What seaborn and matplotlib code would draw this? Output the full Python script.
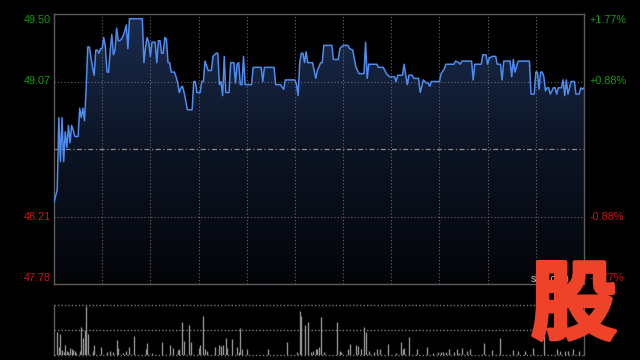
import numpy as np
import matplotlib
matplotlib.use("Agg")
import matplotlib.pyplot as plt
import matplotlib.patheffects as pe
import seaborn as sns
import pandas as pd
from matplotlib.patches import Polygon
from matplotlib.colors import LinearSegmentedColormap

# ---------------- data ----------------
trace_min = [
    0, 2, 3, 4, 5, 6, 7, 8, 9, 10,
    11, 12, 13, 15, 16, 17, 18, 19, 20, 21,
    22, 24, 25, 26, 27, 28, 29, 30, 31, 32,
    33, 34, 35, 36, 37, 38, 39, 40, 41, 42,
    43, 44, 45, 46, 47, 55, 56, 57, 58, 59,
    60, 61, 63, 64, 65, 66, 67, 68, 69, 70,
    71, 72, 73, 75, 76, 77, 78, 79, 80, 81,
    82, 83, 86, 87, 88, 89, 91, 92, 93, 94,
    96, 98, 99, 100, 101, 102, 103, 104, 105, 106,
    107, 109, 110, 112, 113, 114, 115, 116, 117, 118,
    119, 123, 124, 129, 130, 131, 137, 138, 141, 143,
    144, 150, 151, 152, 153, 154, 155, 156, 157, 158,
    161, 162, 163, 164, 166, 167, 168, 173, 174, 177,
    178, 180, 183, 184, 186, 188, 189, 190, 193, 194,
    195, 196, 201, 202, 205, 207, 209, 212, 213, 214,
    217, 218, 219, 220, 221, 223, 224, 227, 228, 230,
    231, 232, 233, 234, 235, 240, 241, 243, 244, 249,
    250, 252, 253, 254, 260, 261, 262, 266, 267, 269,
    270, 271, 273, 275, 276, 278, 279, 280, 284, 285,
    286, 287, 289, 296, 297, 299, 300, 301, 302, 303,
    304, 305, 306, 307, 308, 309, 311, 312, 313, 314,
    316, 317, 318, 319, 320, 322, 324, 325, 327, 328,
    329, 330,
]
trace_price = [
    48.30, 48.38, 48.84, 48.56, 48.84, 48.56, 48.75, 48.65, 48.79, 48.68,
    48.79, 48.76, 48.72, 48.72, 48.90, 48.84, 48.90, 48.82, 49.02, 49.29,
    49.29, 49.16, 49.11, 49.27, 49.27, 49.25, 49.28, 49.28, 49.35, 49.29,
    49.13, 49.13, 49.27, 49.37, 49.24, 49.27, 49.41, 49.33, 49.33, 49.34,
    49.36, 49.39, 49.43, 49.28, 49.47, 49.47, 49.19, 49.29, 49.35, 49.32,
    49.23, 49.32, 49.32, 49.19, 49.33, 49.33, 49.25, 49.25, 49.35, 49.34,
    49.19, 49.19, 49.13, 49.13, 49.10, 49.06, 49.00, 49.03, 49.04, 49.00,
    48.95, 48.89, 48.89, 49.07, 49.07, 49.00, 49.00, 49.07, 49.07, 49.20,
    49.14, 49.14, 49.23, 49.24, 49.25, 49.25, 49.05, 49.07, 48.98, 49.23,
    49.00, 49.00, 49.19, 49.19, 49.06, 49.18, 49.19, 49.05, 49.05, 49.23,
    49.05, 49.05, 49.16, 49.16, 49.07, 49.16, 49.16, 49.05, 49.05, 49.02,
    49.08, 49.08, 49.05, 48.98, 49.19, 49.25, 49.25, 49.19, 49.26, 49.19,
    49.19, 49.14, 49.09, 49.14, 49.19, 49.19, 49.30, 49.30, 49.21, 49.21,
    49.28, 49.30, 49.30, 49.28, 49.27, 49.16, 49.14, 49.12, 49.12, 49.32,
    49.09, 49.18, 49.18, 49.16, 49.16, 49.12, 49.10, 49.10, 49.07, 49.11,
    49.11, 49.18, 49.11, 49.05, 49.11, 49.11, 49.09, 49.09, 49.00, 49.08,
    49.07, 49.06, 49.06, 49.04, 49.07, 49.07, 49.12, 49.15, 49.18, 49.18,
    49.20, 49.19, 49.18, 49.20, 49.20, 49.08, 49.18, 49.18, 49.24, 49.24,
    49.18, 49.22, 49.23, 49.23, 49.18, 49.18, 49.08, 49.20, 49.20, 49.10,
    49.21, 49.13, 49.20, 49.20, 48.99, 48.99, 49.13, 49.13, 49.02, 49.13,
    49.13, 49.10, 49.01, 49.03, 49.03, 48.99, 49.03, 49.03, 48.99, 49.03,
    49.03, 49.08, 48.98, 49.08, 48.99, 49.07, 49.07, 48.99, 48.99, 49.03,
    49.02, 49.03,
]

vol_min = [
    2, 3, 4, 5, 6, 7, 8, 9, 10, 11, 12, 13, 14, 16, 17, 18, 19, 20, 21, 24,
    25, 29, 33, 35, 37, 39, 40, 43, 45, 47, 50, 57, 58, 61, 67, 72, 74, 77, 78, 80,
    81, 84, 85, 90, 91, 93, 94, 95, 100, 103, 104, 105, 107, 108, 111, 114, 115, 116, 117, 120,
    133, 145, 151, 153, 154, 156, 158, 160, 161, 163, 164, 165, 166, 168, 176, 178, 179, 183, 184, 188,
    189, 191, 193, 194, 196, 199, 201, 203, 208, 213, 216, 217, 218, 221, 226, 232, 236, 239, 241, 242,
    244, 246, 249, 251, 252, 254, 257, 259, 268, 273, 278, 286, 289, 293, 298, 305, 313, 315, 318, 320,
    323, 327,
]
vol_val = [
    23, 8, 21, 5, 3, 10, 4, 3, 7, 6, 5, 4, 2, 4, 28, 17, 25, 49, 21, 4,
    10, 8, 3, 4, 3, 15, 7, 2, 4, 8, 19, 6, 12, 2, 13, 10, 7, 5, 6, 33,
    14, 30, 13, 7, 10, 39, 6, 4, 8, 10, 9, 10, 17, 7, 16, 8, 3, 27, 6, 6,
    6, 13, 3, 44, 39, 30, 33, 3, 4, 6, 6, 8, 38, 3, 33, 4, 3, 6, 11, 10,
    9, 6, 28, 23, 4, 3, 6, 6, 11, 2, 13, 6, 7, 18, 6, 8, 2, 3, 3, 3,
    3, 6, 3, 6, 2, 7, 4, 6, 12, 5, 17, 5, 4, 4, 7, 22, 6, 4, 4, 4,
    6, 4,
]

left_labels = ["49.50", "49.07", "48.21", "47.78"]
right_labels = ["+1.77%", "+0.88%", "-0.88%", "-1.77%"]
label_prices = [49.50, 49.07, 48.21, 47.78]
prev_close = 48.64
grid_minutes = [30, 60, 90, 120, 150, 180, 210, 240, 270, 300]

# ---------------- style ----------------
sns.set_theme(style="dark")
plt.rcParams["font.family"] = ["Liberation Sans", "DejaVu Sans"]

W, H = 640, 360
fig = plt.figure(figsize=(6.4, 3.6), dpi=100, facecolor="black")
ax = fig.add_axes([54 / W, 1 - 284 / H, 530 / W, 270 / H])
axv = fig.add_axes([54 / W, 1 - 355 / H, 530 / W, 50 / H])

YMIN, YMAX = 47.78, 49.50
for a in (ax, axv):
    a.set_facecolor("black")
    a.grid(False)

df = pd.DataFrame({"minute": trace_min, "price": trace_price})

# gradient area under the line
grad = np.linspace(0, 1, 256).reshape(-1, 1)
cmap = LinearSegmentedColormap.from_list("g", ["#030408", "#0c1424", "#1b2c4e"])
im = ax.imshow(grad, extent=[0, 330, YMIN, YMAX], origin="lower",
               aspect="auto", cmap=cmap, zorder=1, interpolation="bilinear")
verts = [(trace_min[0], YMIN)] + list(zip(trace_min, trace_price)) + [(trace_min[-1], YMIN)]
poly = Polygon(verts, closed=True, facecolor="none", edgecolor="none")
ax.add_patch(poly)
im.set_clip_path(poly)

# grid lines
gcol = "#6a6a6a"
for m in grid_minutes:
    ax.axvline(m, color=gcol, lw=0.8, ls=(0, (1, 2)), zorder=2)
for p in (49.07, 48.21):
    ax.axhline(p, color=gcol, lw=0.8, ls=(0, (1, 2)), zorder=2)
ax.axhline(prev_close, color="#8a8a8a", lw=0.9, ls=(0, (4, 2, 1, 2)), zorder=2)

sns.lineplot(data=df, x="minute", y="price", ax=ax, color="#4d8cf0",
             lw=1.1, zorder=4, estimator=None)
ax.set_xlim(0, 330)
ax.set_ylim(YMIN, YMAX)
ax.set_xlabel("")
ax.set_ylabel("")
ax.set_xticks([])
ax.set_yticks([])

for s in ax.spines.values():
    s.set_visible(True)
    s.set_color("#5c5c5c")
    s.set_linewidth(1.0)

# price labels
offsets = [-4.3, 0, 0, 4.6]
lcolors = ["#119c11", "#119c11", "#cc1414", "#cc1414"]
for txt, rtxt, p, dy, c in zip(left_labels, right_labels, label_prices, offsets, lcolors):
    ax.annotate(txt, xy=(-0.006, p), xycoords=("axes fraction", "data"),
                xytext=(0, dy), textcoords="offset points", ha="right", va="center",
                color=c, fontsize=7.8, annotation_clip=False)
    ax.annotate(rtxt, xy=(1.011, p), xycoords=("axes fraction", "data"),
                xytext=(0, dy), textcoords="offset points", ha="left", va="center",
                color=c, fontsize=7.8, annotation_clip=False)

# volume panel
axv.set_xlim(0, 330)
axv.set_ylim(0, 50)
axv.vlines(vol_min, 0, vol_val, color="#8e8e8e", lw=1.0, zorder=3)
for yv in (50, 25, 0.3):
    axv.axhline(yv, color="#7a7a7a", lw=1.0, ls=(0, (1, 1.5)), zorder=2, clip_on=False)
axv.set_xticks([])
axv.set_yticks([])
for side, s in axv.spines.items():
    if side in ("left", "right"):
        s.set_visible(True)
        s.set_color("#5c5c5c")
        s.set_linewidth(1.0)
    else:
        s.set_visible(False)

# watermark
fig.text(531 / W, 1 - 279 / H, "sina.com", color="#c8c8c8", fontsize=7,
         ha="left", va="center", zorder=5)
logo = fig.text(574 / W, 1 - 307 / H, "股", color="#ee4229", fontsize=62,
                fontweight="bold", family=["Noto Sans CJK SC", "DejaVu Sans"],
                ha="center", va="center", zorder=20)
logo.set_path_effects([pe.withStroke(linewidth=3, foreground="#ee4229")])

fig.savefig("out.png", dpi=100, facecolor="black")
